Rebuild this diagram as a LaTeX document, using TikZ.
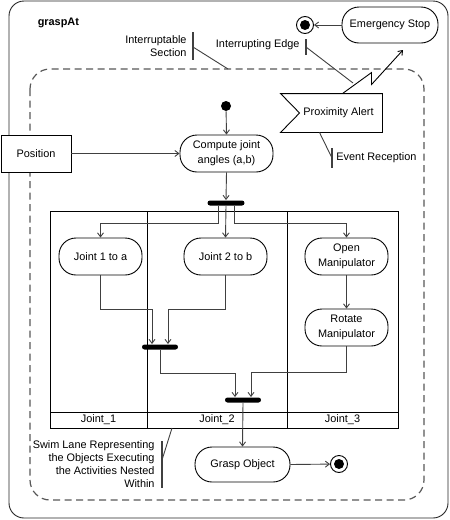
\documentclass[tikz,border=0pt]{standalone}
\usepackage{fontspec}
\setmainfont{Liberation Sans}
\usetikzlibrary{positioning,calc,arrows.meta}
\definecolor{linegray}{HTML}{404040}
\definecolor{dashgray}{HTML}{585858}

\begin{document}
\begin{tikzpicture}[x=1pt, y=-1pt, line width=0.9pt, font=\fontsize{10.9}{13}\selectfont,
  act/.style={draw, fill=white, rounded corners=17pt, minimum width=83pt, minimum height=37pt,
    align=center, inner sep=2pt, font=\fontsize{10.9}{15}\selectfont},
  flow/.style={draw=linegray, -{Straight Barb[length=4pt,width=6pt]}},
  bar/.style={fill, rounded corners=2.5pt, minimum height=5pt, minimum width=37pt, inner sep=0pt},
  final/.style={draw, circle, minimum size=17pt, inner sep=0pt,
    path picture={\fill (path picture bounding box.center) circle (5pt);}},
  notebar/.style={draw=linegray, line width=1.5pt},
  noteline/.style={draw=linegray}]
\useasboundingbox (0,0) rectangle (450,520);
% frame and interruptible region
\draw[black!85, rounded corners=15pt] (9,1) rectangle (448,518);
\node[anchor=west, font=\fontsize{10.9}{13}\selectfont\bfseries] (title) at (34,23) {graspAt};
\coordinate (reg-nw) at (30,69);
\coordinate (reg-se) at (424,500);
\draw[dashgray, line width=1.2pt, dash pattern=on 7pt off 4.5pt, rounded corners=20pt] (reg-nw) rectangle (reg-se);

% swim lanes
\coordinate (lanes-nw) at (50,211);
\coordinate (lanes-se) at (398,428);
\draw (lanes-nw) rectangle (lanes-se);
\draw (147,211) -- (147,428) (287,211) -- (287,428) (50,412) -- (398,412);
\foreach \x/\t [count=\i] in {98.5/Joint\_1, 217/Joint\_2, 342.5/Joint\_3}
  \node (lane\i) at (\x,420) {\t};

% nodes
\node[final] (stopend) at (305,25) {};
\node[act, minimum width=96pt, minimum height=36pt] (estop) at (390,25) {Emergency Stop};
\node[fill, circle, minimum size=10pt, inner sep=0pt] (start) at (226,106) {};
\node[act, minimum width=93pt] (compute) at (226.5,153.5) {Compute joint\\angles (a,b)};
\node[draw, fill=white, minimum width=70pt, minimum height=37pt] (position) at (36,153.5) {Position};
\node[minimum width=101pt, minimum height=38pt, inner sep=0pt,
  label={[xshift=7pt]center:Proximity Alert}] (alert) at (331.5,113) {};
\draw (alert.north west) -- (alert.north east) -- (alert.south east) -- (alert.south west)
  -- ([xshift=19pt]alert.west) -- cycle;
\node[bar] (fork) at (226,203) {};
\node[act] (joint1) at (100.5,256.5) {Joint 1 to a};
\node[act] (joint2) at (225.5,256.5) {Joint 2 to b};
\node[act] (openm) at (346.5,256.5) {Open\\Manipulator};
\node[act] (rotm) at (346.5,327.5) {Rotate\\Manipulator};
\node[bar, minimum width=36pt] (join1) at (160,347) {};
\node[bar, minimum width=36pt] (join2) at (243,400) {};
\node[act, minimum width=95pt, minimum height=35pt] (grasp) at (242.5,464.5) {Grasp Object};
\node[final] (graspend) at (339,464) {};

% flows
\draw[flow] (estop.west) -- (stopend);
\draw[flow] (start) -- (compute.north);
\draw[flow] (position.east) -- (compute.west);
\draw[flow] (compute.south) -- (fork.north);
\draw[flow] ([xshift=-8pt]fork.south) -- ++(0,17) -| (joint1.north);
\draw[flow] (fork.south) -- (joint2.north);
\draw[flow] ([xshift=8pt]fork.south) -- ++(0,17) -| (openm.north);
\draw[flow] (openm.south) -- (rotm.north);
\draw[flow] (joint1.south) -- ++(0,34) -| ([xshift=-8pt]join1.north);
\draw[flow] (joint2.south) -- ++(0,34) -| ([xshift=8pt]join1.north);
\draw[flow] (join1.south) -- ++(0,23) -| ([xshift=-8pt]join2.north);
\draw[flow] (rotm.south) -- ++(0,26) -| ([xshift=8pt]join2.north);
\draw[flow] (join2.south) -- (grasp.north);
\draw[flow] (grasp.east) -- (graspend);
% interrupting edge
\coordinate (stopin) at (403,50);
\draw[flow, draw=black] ([xshift=11pt]alert.north) -- ++(29,-21) -- ++(0,12) -- (stopin);

% notes
\node[anchor=east, align=right, inner sep=0pt] (isect) at (187,46) {Interruptable\\Section};
\coordinate (isect-end) at (228,69);
\draw[notebar] (193,32) -- (193,60);
\draw[noteline] (193,47) -- (isect-end);
\node[anchor=east, inner sep=0pt] (iedge) at (300,45) {Interrupting Edge};
\coordinate (iedge-end) at (353,83);
\draw[notebar] (306,39) -- (306,55);
\draw[noteline] (306,47) -- (iedge-end);
\node[anchor=west, inner sep=0pt] (erecep) at (336,158) {Event Reception};
\draw[notebar] (332,148) -- (332,168);
\draw[noteline] ([xshift=-12pt]alert.south) -- (332,158);
\node[anchor=east, align=right, inner sep=0pt] (slane) at (155,464.5)
  {Swim Lane Representing\\the Objects Executing\\the Activities Nested\\Within};
\coordinate (slane-end) at (172,428);
\draw[notebar] (162,441) -- (162,488);
\draw[noteline] (162,460) -- (slane-end);
\end{tikzpicture}
\end{document}
